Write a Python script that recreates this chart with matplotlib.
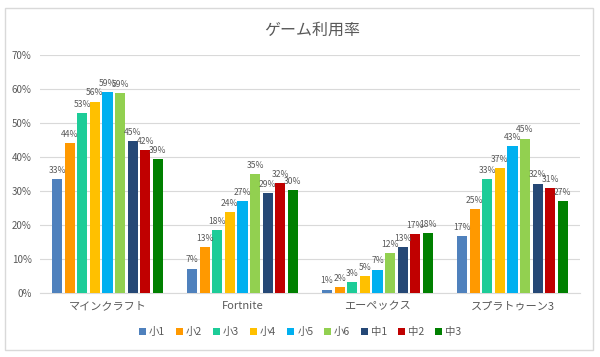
import numpy as np
import matplotlib
matplotlib.use("Agg")
import matplotlib.pyplot as plt
from matplotlib.patches import Rectangle

plt.rcParams['font.family'] = ['Noto Sans CJK JP', 'DejaVu Sans']

# data
games = ["マインクラフト", "Fortnite", "エーペックス", "スプラトゥーン3"]
grades = ["小1", "小2", "小3", "小4", "小5", "小6", "中1", "中2", "中3"]
minecraft = [33.4, 44.2, 52.9, 56.3, 59.0, 58.8, 44.7, 42.1, 39.4]
fortnite = [7.2, 13.4, 18.4, 23.8, 27.0, 35.0, 29.3, 32.3, 30.3]
apex = [1.0, 1.8, 3.1, 5.0, 6.9, 11.8, 13.4, 17.4, 17.6]
splatoon = [16.7, 24.8, 33.4, 36.8, 43.3, 45.4, 32.2, 30.8, 27.1]
colors = ["#4f81bd", "#ff9900", "#1dcc98", "#ffc000", "#00b0f0",
          "#92d050", "#254876", "#c00000", "#008000"]

values = np.array([minecraft, fortnite, apex, splatoon])
txt = "#595959"

fig = plt.figure(figsize=(6, 3.57), dpi=100)
fig.patches.append(Rectangle((5 / 600, 1 - 350 / 357), 588 / 600, 342 / 357,
                             transform=fig.transFigure, fill=False,
                             edgecolor="#d9d9d9", lw=1))
ax = fig.add_axes([40 / 600, 1 - 293 / 357, 540 / 600, 238 / 357])

x = np.arange(len(games))
slot = 0.84 / len(grades)
for i, g in enumerate(grades):
    pos = x - 0.42 + slot * (i + 0.5)
    bars = ax.bar(pos, values[:, i], width=slot * 0.8, color=colors[i], label=g, zorder=3)
    for b, v in zip(bars, values[:, i]):
        ax.annotate(f"{v:.0f}%", (b.get_x() + b.get_width() / 2, v),
                    xytext=(0, 3), textcoords="offset points",
                    ha="center", va="bottom", fontsize=6.2, color=txt, zorder=4)

ax.set_xlim(-0.5, 3.5)
ax.set_ylim(0, 70)
ax.set_yticks(range(0, 71, 10))
ax.set_yticklabels([f"{t}%" for t in range(0, 71, 10)], fontsize=7, color=txt)
ax.set_xticks(x)
ax.set_xticklabels(games, fontsize=8, color=txt)
ax.tick_params(length=0, pad=6)
ax.grid(axis="y", color="#d9d9d9", lw=0.8, zorder=0)
for s in ["top", "right", "left"]:
    ax.spines[s].set_visible(False)
ax.spines["bottom"].set_color("#d9d9d9")

fig.text(0.52, 1 - 30 / 357, "ゲーム利用率", ha="center", va="center",
         fontsize=11.5, color=txt)
fig.legend(loc="center", bbox_to_anchor=(0.5, 1 - 332 / 357), ncol=9,
           frameon=False, fontsize=7.5, handlelength=0.7, handleheight=0.7,
           handletextpad=0.3, columnspacing=1.0, labelcolor=txt)

fig.savefig("out.png", dpi=100)
